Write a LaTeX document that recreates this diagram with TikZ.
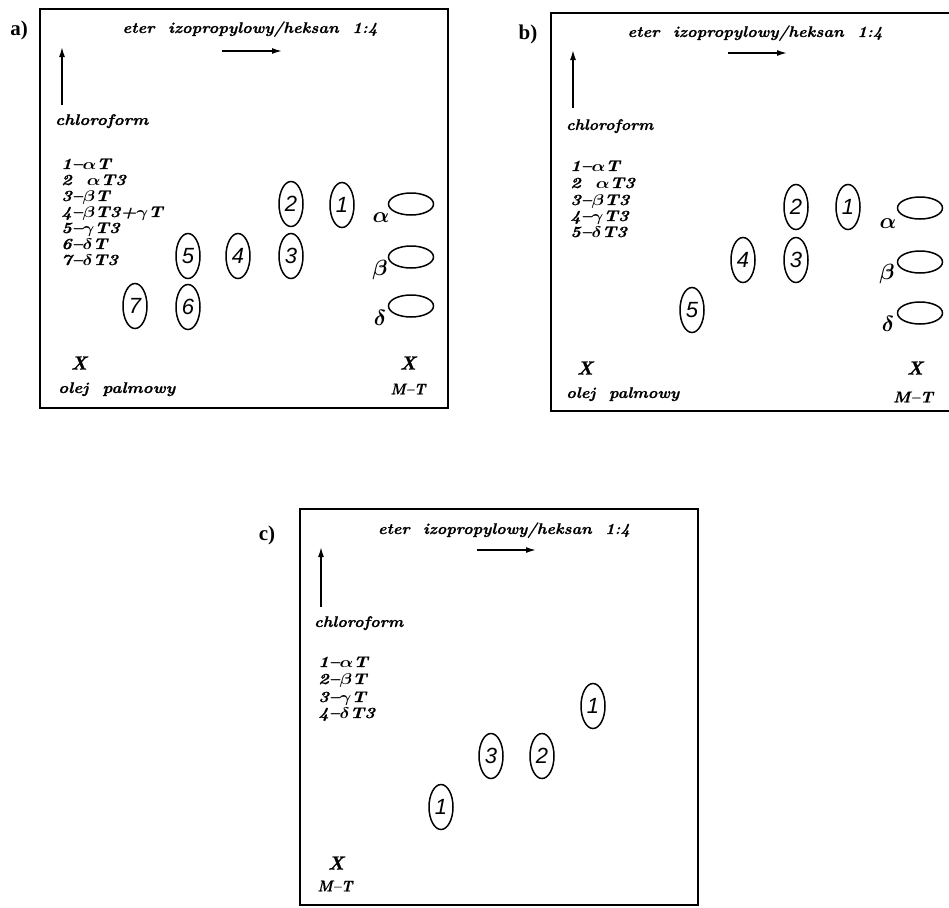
\RequirePackage{fix-cm}
\documentclass[tikz,border=0pt]{standalone}
\usepackage{fontspec}
\usepackage{amsmath,bm}
\usetikzlibrary{arrows.meta,shapes.geometric}
\newfontfamily\labfont{Liberation Serif}
\newfontface\hvbi[FakeBold=0.6,Ligatures=TeX]{lmroman10-bolditalic.otf}
\newfontfamily\digfont{Liberation Sans}
\newcommand\fw[2]{\resizebox{#1pt}{\height}{#2}}
\newcommand\hs[1]{\scalebox{1.17}[1]{#1}}
\newcommand\dsh{\textendash}
\tikzset{
 frame/.style={line width=1.4pt},
 lab/.style={font=\labfont\bfseries\fontsize{21}{21}\selectfont, inner sep=0},
 txt/.style={font=\hvbi\fontsize{15.5}{15.5}\selectfont, inner sep=0},
 bigx/.style={font=\hvbi\fontsize{19}{19}\selectfont, inner sep=0},
 spot/.style={draw, ellipse, line width=1.5pt, minimum width=24pt, minimum height=45pt, inner sep=0, font=\digfont\itshape\fontsize{22}{22}\selectfont},
 refspot/.style={draw, ellipse, line width=1.5pt, minimum width=45pt, minimum height=22pt, inner sep=0},
 greek/.style={inner sep=0, font=\fontsize{22}{22}\selectfont},
 flow/.style={line width=1.5pt, -{Latex[length=10pt,width=6pt]}},
}
\begin{document}
\begin{tikzpicture}[x=1pt,y=-1pt]
\useasboundingbox (0,0) rectangle (949,907);
% ================= panel a =================
\node[lab] (aLab) at (19,30) {a)};
\draw[frame] (40,9) rectangle (448,408);
\node[txt,anchor=base] (aTitle) at (250,33) {\fw{255}{eter~~izopropylowy/heksan~~1:4}};
\coordinate (aR1) at (222,51); \coordinate (aR2) at (282,51);
\draw[flow] (aR1) -- (aR2);
\coordinate (aU1) at (62,105); \coordinate (aU2) at (62,47);
\draw[flow] (aU1) -- (aU2);
\node[txt,anchor=base west] (aChl) at (55,125) {\fw{93}{chloroform}};
\node[txt,anchor=base west] (aL1) at (61,169) {\hs{1\dsh$\bm{\alpha}$T}};
\node[txt,anchor=base west] (aL2) at (61,185) {\hs{2~~$\bm{\alpha}$T3}};
\node[txt,anchor=base west] (aL3) at (61,201) {\hs{3\dsh$\bm{\beta}$T}};
\node[txt,anchor=base west] (aL4) at (61,217) {\hs{4\dsh$\bm{\beta}$T3+$\bm{\gamma}$T}};
\node[txt,anchor=base west] (aL5) at (61,233) {\hs{5\dsh$\bm{\gamma}$T3}};
\node[txt,anchor=base west] (aL6) at (61,249) {\hs{6\dsh$\bm{\delta}$T}};
\node[txt,anchor=base west] (aL7) at (61,265) {\hs{7\dsh$\bm{\delta}$T3}};
\node[spot] (aS2) at (291,204) {2};
\node[spot] (aS1) at (342,205) {1};
\node[spot] (aS5) at (188,256) {5};
\node[spot] (aS4) at (238,256) {4};
\node[spot] (aS3) at (291,256) {3};
\node[spot] (aS7) at (135,306) {7};
\node[spot] (aS6) at (188,307) {6};
\node[refspot] (aRa) at (411,204) {};
\node[refspot] (aRb) at (411,257) {};
\node[refspot] (aRd) at (411,306) {};
\node[greek] (aGa) at (381,218) {$\bm{\alpha}$};
\node[greek] (aGb) at (380,270) {$\bm{\beta}$};
\node[greek] (aGd) at (380,318) {$\bm{\delta}$};
\node[bigx] (aX1) at (79,363) {X};
\node[bigx] (aX2) at (408,363) {X};
\node[txt,anchor=base west] (aOil) at (58,393) {\fw{117}{olej~~palmowy}};
\node[txt] (aMT) at (408,389) {\fw{35}{M\dsh T}};
% ================= panel b =================
\node[lab] (bLab) at (528,34) {b)};
\draw[frame] (962,13) -- (551,13) -- (551,411) -- (962,411);
\node[txt,anchor=base] (bTitle) at (755,37) {\fw{255}{eter~~izopropylowy/heksan~~1:4}};
\coordinate (bR1) at (728,53); \coordinate (bR2) at (787,53);
\draw[flow] (bR1) -- (bR2);
\coordinate (bU1) at (573,108); \coordinate (bU2) at (573,50);
\draw[flow] (bU1) -- (bU2);
\node[txt,anchor=base west] (bChl) at (566,130) {\fw{87}{chloroform}};
\node[txt,anchor=base west] (bL1) at (570,171) {\hs{1\dsh$\bm{\alpha}$T}};
\node[txt,anchor=base west] (bL2) at (570,188) {\hs{2~~$\bm{\alpha}$T3}};
\node[txt,anchor=base west] (bL3) at (570,205) {\hs{3\dsh$\bm{\beta}$T3}};
\node[txt,anchor=base west] (bL4) at (570,221) {\hs{4\dsh$\bm{\gamma}$T3}};
\node[txt,anchor=base west] (bL5) at (570,237) {\hs{5\dsh$\bm{\delta}$T3}};
\node[spot] (bS2) at (796,207) {2};
\node[spot] (bS1) at (848,207) {1};
\node[spot] (bS4) at (743,260) {4};
\node[spot] (bS3) at (796,260) {3};
\node[spot] (bS5) at (692,310) {5};
\node[refspot] (bRa) at (920,208) {};
\node[refspot] (bRb) at (920,262) {};
\node[refspot] (bRd) at (920,313) {};
\node[greek] (bGa) at (888,224) {$\bm{\alpha}$};
\node[greek] (bGb) at (887,274) {$\bm{\beta}$};
\node[greek] (bGd) at (888,324) {$\bm{\delta}$};
\node[bigx] (bX1) at (585,368) {X};
\node[bigx] (bX2) at (915,368) {X};
\node[txt,anchor=base west] (bOil) at (566,398) {\fw{113}{olej~~palmowy}};
\node[txt] (bMT) at (913,397) {\fw{40}{M\dsh T}};
% ================= panel c =================
\node[lab] (cLab) at (267,535) {c)};
\draw[frame] (300,509) rectangle (698,905);
\node[txt,anchor=base] (cTitle) at (504,534) {\fw{252}{eter~~izopropylowy/heksan~~1:4}};
\coordinate (cR1) at (477,550); \coordinate (cR2) at (536,550);
\draw[flow] (cR1) -- (cR2);
\coordinate (cU1) at (321,607); \coordinate (cU2) at (321,547);
\draw[flow] (cU1) -- (cU2);
\node[txt,anchor=base west] (cChl) at (314,627) {\fw{89}{chloroform}};
\node[txt,anchor=base west] (cL1) at (318,667) {\hs{1\dsh$\bm{\alpha}$T}};
\node[txt,anchor=base west] (cL2) at (318,684) {\hs{2\dsh$\bm{\beta}$T}};
\node[txt,anchor=base west] (cL3) at (318,702) {\hs{3\dsh$\bm{\gamma}$T}};
\node[txt,anchor=base west] (cL4) at (318,718) {\hs{4\dsh$\bm{\delta}$T3}};
\node[spot] (cS1) at (593,706) {1};
\node[spot] (cS3) at (491,756) {3};
\node[spot] (cS2) at (542,756) {2};
\node[spot] (cS4) at (441,807) {1};
\node[bigx] (cX) at (336,863) {X};
\node[txt] (cMT) at (335,886) {\fw{35}{M\dsh T}};
\end{tikzpicture}
\end{document}
